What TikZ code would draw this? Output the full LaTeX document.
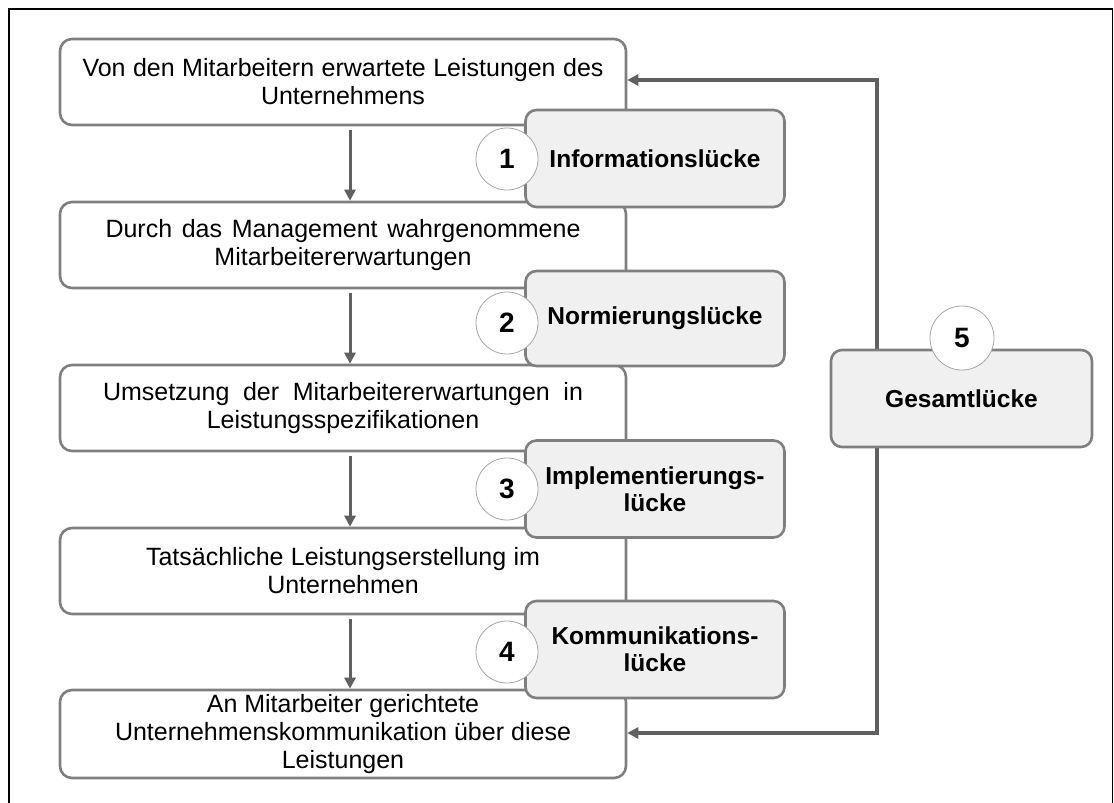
\documentclass[tikz,border=0pt]{standalone}
\usepackage{fontspec}
\setmainfont{Liberation Sans}
\usetikzlibrary{arrows.meta}
\definecolor{boxline}{HTML}{7F7F7F}
\definecolor{arrowgray}{HTML}{606060}
\definecolor{gapfill}{HTML}{F0F0F0}
\definecolor{ringgray}{HTML}{A6A6A6}
% a justified line: spaces stretched to the given width
\newcommand{\jline}[2]{\makebox[#1pt][s]{#2}}

\begin{document}
\begin{tikzpicture}[x=1pt,y=-1pt,
  stage/.style={draw=boxline, line width=2.6pt, rounded corners=12pt, fill=white,
    minimum width=566pt, minimum height=86pt, inner sep=0pt, align=center,
    font=\fontsize{25}{28}\selectfont},
  gap/.style={draw=boxline, line width=2.6pt, rounded corners=11pt, fill=gapfill,
    minimum width=259pt, minimum height=97pt, inner sep=0pt, align=center,
    font=\bfseries\fontsize{24.5}{27}\selectfont},
  num/.style={circle, draw=ringgray, line width=0.8pt, fill=white,
    minimum size=62pt, inner sep=0pt, font=\bfseries\fontsize{28}{28}\selectfont},
  flow/.style={draw=arrowgray, line width=3pt, -{Triangle[width=11pt,length=11pt]}},
  loopline/.style={draw=arrowgray, line width=3.2pt,
    {Triangle[width=11pt,length=11pt]}-{Triangle[width=11pt,length=11pt]}},
]
\useasboundingbox (0,0) rectangle (1114,803);
\draw[line width=1.5pt] (9,803) -- (9,9) -- (1112.5,9) -- (1112.5,803);

% process stages
\node[stage] (b1) at (343,82)  {\jline{521}{Von den Mitarbeitern erwartete Leistungen des}\\Unternehmens};
\node[stage] (b2) at (343,245) {\jline{475}{Durch das Management wahrgenommene}\\Mitarbeitererwartungen};
\node[stage] (b3) at (343,408) {\jline{480}{Umsetzung der Mitarbeitererwartungen in}\\Leistungsspezifikationen};
\node[stage] (b4) at (343,571) {\jline{394}{Tatsächliche Leistungserstellung im}\\Unternehmen};
\node[stage, minimum height=88pt] (b5) at (343,734) {An Mitarbeiter gerichtete\\\jline{456}{Unternehmenskommunikation über diese}\\Leistungen};

% downward flow
\foreach \a/\b in {b1/b2, b2/b3, b3/b4, b4/b5}
  \draw[flow, shorten <=4pt] ([xshift=7pt]\a.south) -- ([xshift=7pt]\b.north);

% overall loop on the right
\coordinate (lt) at (877,80);
\coordinate (lb) at (877,733);
\draw[loopline] (lt -| b1.east) -- (lt) -- (lb) -- (lb -| b5.east);

% gaps 1-4
\node[gap] (g1) at (655,158.5) {Informationslücke};
\node[gap, minimum height=95pt] (g2) at (655,318.5) {Normierungslücke};
\node[gap] (g3) at (655,489) {Implementierungs-\\lücke};
\node[gap] (g4) at (655,649.5) {Kommunikations-\\lücke};

\node[num] (c1) at (507,159) {1};
\node[num] (c2) at (507,323) {2};
\node[num] (c3) at (507,489) {3};
\node[num] (c4) at (507,652) {4};

% total gap
\node[gap, minimum width=261pt] (g5) at (961.5,398.5) {Gesamtlücke};
\node[num, minimum size=64pt] (c5) at (962,338) {5};
\end{tikzpicture}
\end{document}
